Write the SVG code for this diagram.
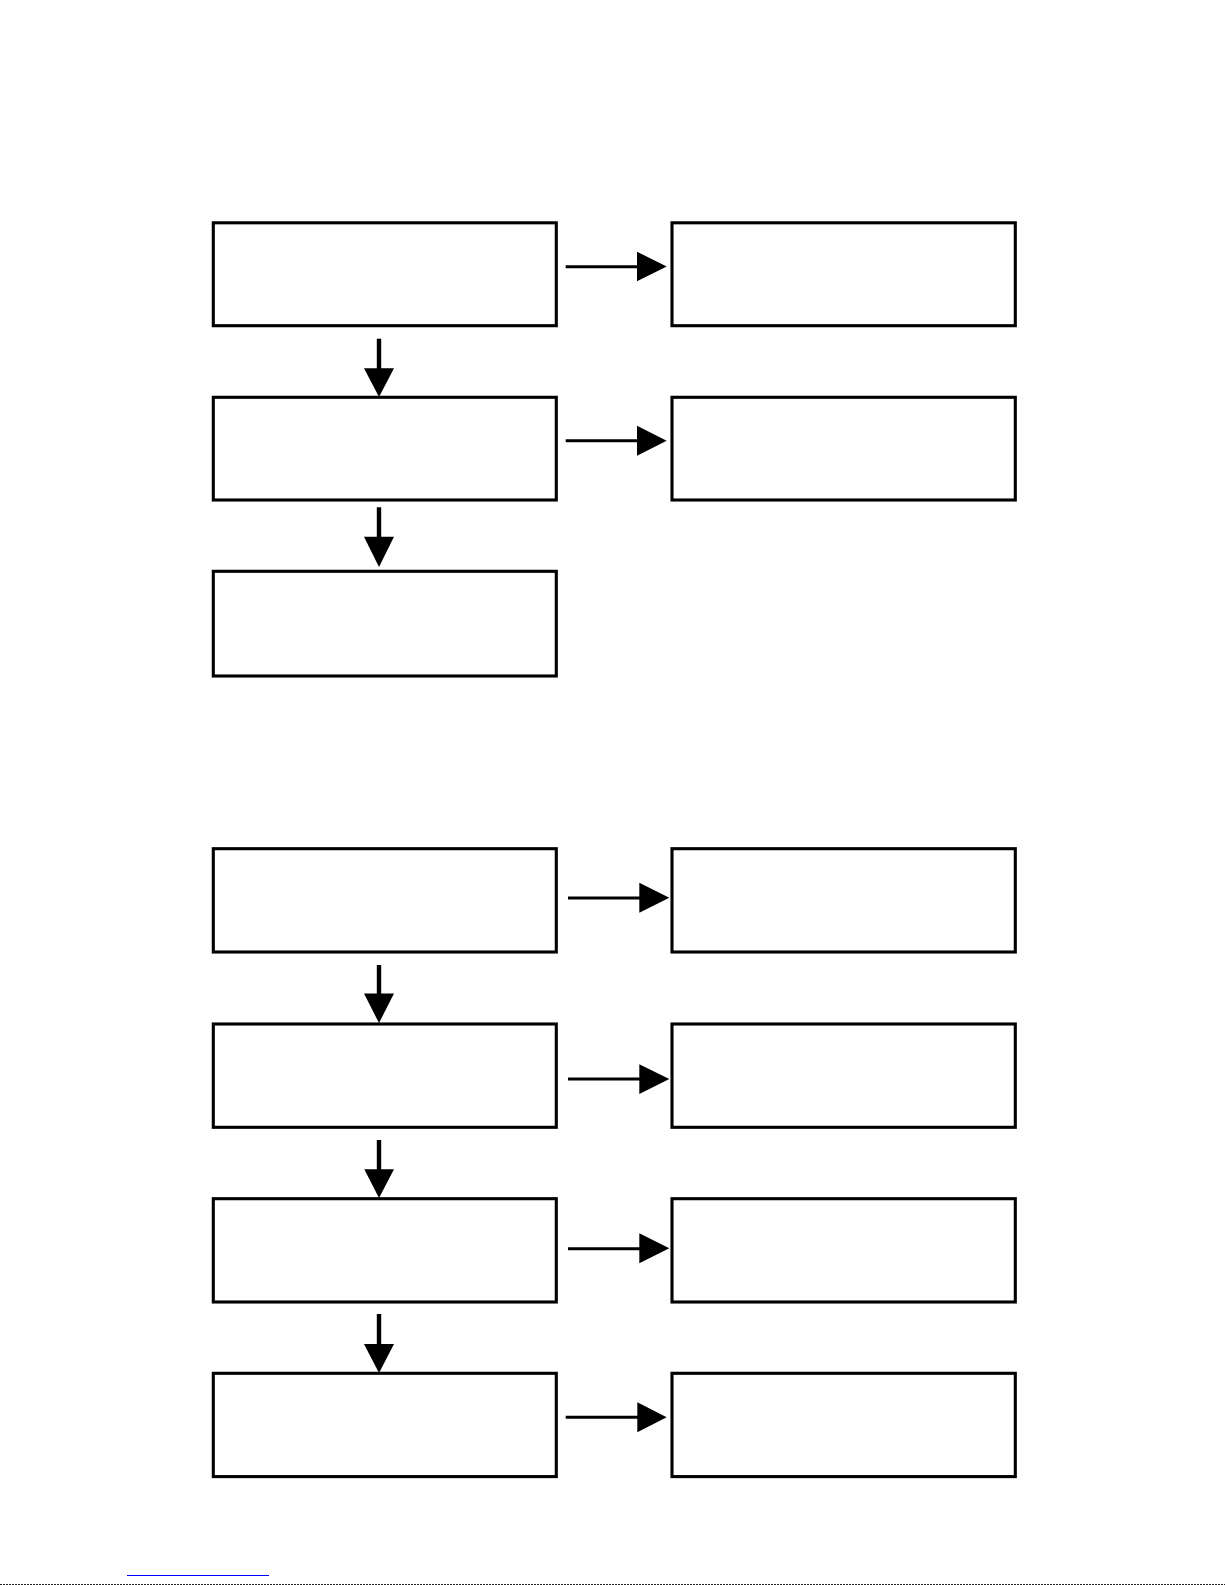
<svg xmlns="http://www.w3.org/2000/svg" width="1225" height="1585" viewBox="0 0 1225 1585">
  <style>
    .box { fill: #ffffff; stroke: #000000; stroke-width: 3.1; }
    .hline { stroke: #000000; stroke-width: 3; fill: none; }
    .vline { stroke: #000000; stroke-width: 4.4; fill: none; }
    .head { fill: #000000; stroke: none; }
  </style>
  <rect x="0" y="0" width="1225" height="1585" fill="#ffffff"/>

  <!-- Top section nodes -->
  <g id="n1"><rect class="box" x="213.3" y="222.8" width="343" height="102.9"/></g>
  <g id="n2"><rect class="box" x="672" y="222.8" width="343.3" height="102.9"/></g>
  <g id="n3"><rect class="box" x="213.3" y="397.3" width="343" height="102.7"/></g>
  <g id="n4"><rect class="box" x="672" y="397.3" width="343.3" height="102.7"/></g>
  <g id="n5"><rect class="box" x="213.3" y="571.3" width="343" height="104.7"/></g>

  <!-- Bottom section nodes -->
  <g id="n6"><rect class="box" x="213.3" y="848.7" width="343" height="103.3"/></g>
  <g id="n7"><rect class="box" x="672" y="848.7" width="343.3" height="103.3"/></g>
  <g id="n8"><rect class="box" x="213.3" y="1024" width="343" height="103.3"/></g>
  <g id="n9"><rect class="box" x="672" y="1024" width="343.3" height="103.3"/></g>
  <g id="n10"><rect class="box" x="213.3" y="1198.7" width="343" height="103.3"/></g>
  <g id="n11"><rect class="box" x="672" y="1198.7" width="343.3" height="103.3"/></g>
  <g id="n12"><rect class="box" x="213.3" y="1373.3" width="343" height="103.3"/></g>
  <g id="n13"><rect class="box" x="672" y="1373.3" width="343.3" height="103.3"/></g>

  <g id="connectors">
    <!-- top horizontal -->
    <line class="hline" x1="565.7" y1="266.7" x2="640" y2="266.7"/>
    <polygon class="head" points="637,251.7 666.7,266.5 637,281.3"/>
    <line class="hline" x1="565.7" y1="440.7" x2="640" y2="440.7"/>
    <polygon class="head" points="637,425.7 666.7,440.7 637,455.7"/>
    <!-- top vertical -->
    <line class="vline" x1="379" y1="338.7" x2="379" y2="371"/>
    <polygon class="head" points="364,368.3 394,368.3 379,397"/>
    <line class="vline" x1="379" y1="507.3" x2="379" y2="540"/>
    <polygon class="head" points="364,536.7 394,536.7 379,567"/>

    <!-- bottom horizontal -->
    <line class="hline" x1="568" y1="898" x2="642" y2="898"/>
    <polygon class="head" points="639.3,882.7 669.3,897.7 639.3,912.7"/>
    <line class="hline" x1="568" y1="1079" x2="642" y2="1079"/>
    <polygon class="head" points="639.3,1064.3 669.3,1079 639.3,1094"/>
    <line class="hline" x1="568" y1="1248.7" x2="642" y2="1248.7"/>
    <polygon class="head" points="639.3,1233.3 669.3,1248.3 639.3,1263.3"/>
    <line class="hline" x1="565.7" y1="1417.3" x2="640" y2="1417.3"/>
    <polygon class="head" points="637.3,1402.3 666.7,1417.3 637.3,1432.3"/>

    <!-- bottom vertical -->
    <line class="vline" x1="379" y1="965" x2="379" y2="996"/>
    <polygon class="head" points="364,993.5 394,993.5 379,1023"/>
    <line class="vline" x1="379" y1="1140" x2="379" y2="1172"/>
    <polygon class="head" points="364.3,1169.3 394,1169.3 379,1198"/>
    <line class="vline" x1="379" y1="1314" x2="379" y2="1347"/>
    <polygon class="head" points="364,1344 394,1344 379,1373"/>
  </g>

  <!-- footer lines -->
  <line x1="127" y1="1575.5" x2="269" y2="1575.5" stroke="#0000ff" stroke-width="1"/>
  <line x1="0" y1="1584.5" x2="1225" y2="1584.5" stroke="#222222" stroke-width="1" stroke-dasharray="2,1"/>
</svg>
